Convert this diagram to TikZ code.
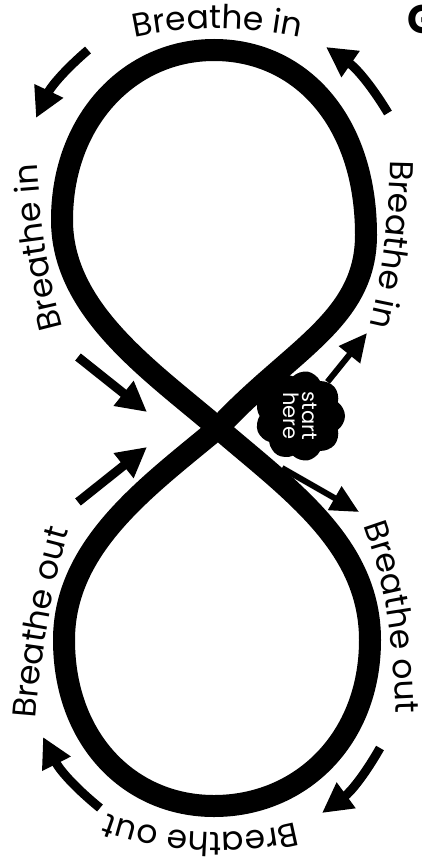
\documentclass[tikz,border=0pt]{standalone}
\usepackage{fontspec}
\setmainfont{Poppins}
\usetikzlibrary{arrows.meta, shapes.symbols, decorations.text}

\newcommand{\breathfont}{\fontsize{33}{36}\selectfont}

\begin{document}
\begin{tikzpicture}[
  x=1pt, y=-1pt,
  eight/.style={line width=22pt, line join=round},
  bigarrow/.style={line width=9pt, -{Triangle[length=30pt,width=30pt]}},
  smallarrow/.style={line width=6pt, -{Triangle[length=28pt,width=26pt]}},
  curvelabel/.style={decorate, decoration={text along path, text align=center, text={|\breathfont|#1}}}
]
\useasboundingbox (0,0) rectangle (421,861);

% Figure eight
\coordinate (cross) at (218,428);
\draw[eight] (cross) .. controls (290,350) and (366,320) .. (366,235)
  .. controls (366,120) and (300,50) .. (214,50)
  .. controls (130,50) and (62,120) .. (62,220)
  .. controls (62,310) and (150,370) .. (cross)
  .. controls (290,490) and (370,545) .. (370,640)
  .. controls (370,740) and (300,806) .. (214,806)
  .. controls (130,806) and (64,740) .. (64,640)
  .. controls (64,545) and (150,485) .. cycle;

% Start cloud
\node[cloud, cloud puffs=9, cloud puff arc=110, cloud ignores aspect, fill=black, minimum width=90pt, minimum height=90pt,
  inner sep=3pt, text=white, rotate=-90, align=center, font=\fontsize{21}{19}\selectfont] (start) at (300,416) {start\\here};

% Title fragment
\node[anchor=base west, font=\fontsize{40}{40}\selectfont\bfseries] (title) at (404,34) {G};

% Labels round the loops
\path[curvelabel={Breathe in}] (115,42) .. controls (180,24) and (250,24) .. (320,42);
\path[curvelabel={Breathe in}] (70,355) .. controls (50,290) and (38,220) .. (36,135);
\path[curvelabel={Breathe in}] (390,130) .. controls (392,200) and (384,280) .. (362,355);
\path[curvelabel={Breathe out}] (356,505) .. controls (383,570) and (396,640) .. (396,735);
\path[curvelabel={Breathe out}] (322,814) .. controls (260,840) and (150,840) .. (82,802);
\path[curvelabel={Breathe out}] (34,750) .. controls (38,660) and (53,580) .. (78,500);

% Arrows
\draw[bigarrow] (88,50) to[bend right=12] (36,118);
\draw[bigarrow] (388,113) to[bend right=12] (326,47);
\draw[bigarrow] (78,357) -- (147,412);
\draw[bigarrow] (78,502) -- (147,447);
\draw[smallarrow] (start) -- (367,333);
\draw[smallarrow] (282,468) -- (359,512);
\draw[bigarrow] (380,748) to[bend left=12] (322,813);
\draw[bigarrow] (100,808) to[bend left=12] (43,737);

\end{tikzpicture}
\end{document}
